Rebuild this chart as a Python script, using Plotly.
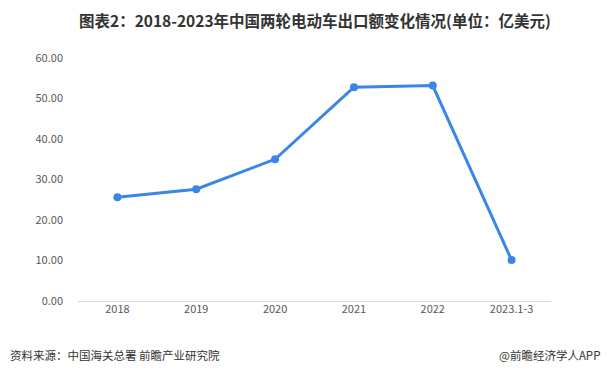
import plotly.graph_objects as go

categories = ["2018", "2019", "2020", "2021", "2022", "2023.1-3"]
values = [25.6, 27.6, 35.0, 52.8, 53.2, 10.1]
y_ticks = [0, 10, 20, 30, 40, 50, 60]
y_tick_labels = ["0.00", "10.00", "20.00", "30.00", "40.00", "50.00", "60.00"]

title = "图表2：2018-2023年中国两轮电动车出口额变化情况(单位：亿美元)"
source = "资料来源：中国海关总署 前瞻产业研究院"
credit = "@前瞻经济学人APP"

# page body has an 8px margin, so the figure is 602x374 placed at (8, 8)
W, H = 602, 374
ML, MR, MT, MB = 70, 59, 50, 81
plot_w = W - ML - MR
plot_h = H - MT - MB

fig = go.Figure()
fig.add_trace(go.Scatter(
    x=categories, y=values, mode="lines+markers",
    line=dict(color="#3a86e8", width=3),
    marker=dict(color="#3a86e8", size=8),
    hoverinfo="skip", showlegend=False,
))

fig.update_layout(
    width=W, height=H,
    margin=dict(l=ML, r=MR, t=MT, b=MB),
    paper_bgcolor="white", plot_bgcolor="white",
    font=dict(family="Noto Sans CJK SC, sans-serif", color="#595959", size=11),
    xaxis=dict(
        type="category", showgrid=False, showline=False, zeroline=False,
        ticks="", tickfont=dict(size=11, color="#595959"),
        range=[-0.5, 5.5], fixedrange=True,
    ),
    yaxis=dict(
        range=[0, 60], tickvals=y_ticks, ticktext=y_tick_labels,
        showgrid=False, showline=False, zeroline=True, zerolinecolor="#d9d9d9",
        zerolinewidth=1, ticks="", ticklabelstandoff=14,
        tickfont=dict(size=11, color="#595959"),
    ),
    annotations=[
        dict(text="<b>" + title + "</b>", x=0.5, y=1 + (MT - 12) / plot_h,
             xref="paper", yref="paper", showarrow=False, yanchor="middle",
             font=dict(size=15.5, color="#333333", family="Noto Sans CJK SC, sans-serif")),
        dict(text=source, x=-(ML - 0) / plot_w, y=-(347 - (H - MB)) / plot_h,
             xref="paper", yref="paper", showarrow=False,
             xanchor="left", yanchor="middle", font=dict(size=11.5, color="#333333")),
        dict(text=credit, x=1 + (MR - 8) / plot_w, y=-(347 - (H - MB)) / plot_h,
             xref="paper", yref="paper", showarrow=False,
             xanchor="right", yanchor="middle", font=dict(size=11.5, color="#333333")),
    ],
)

fig.write_html("out.html")
